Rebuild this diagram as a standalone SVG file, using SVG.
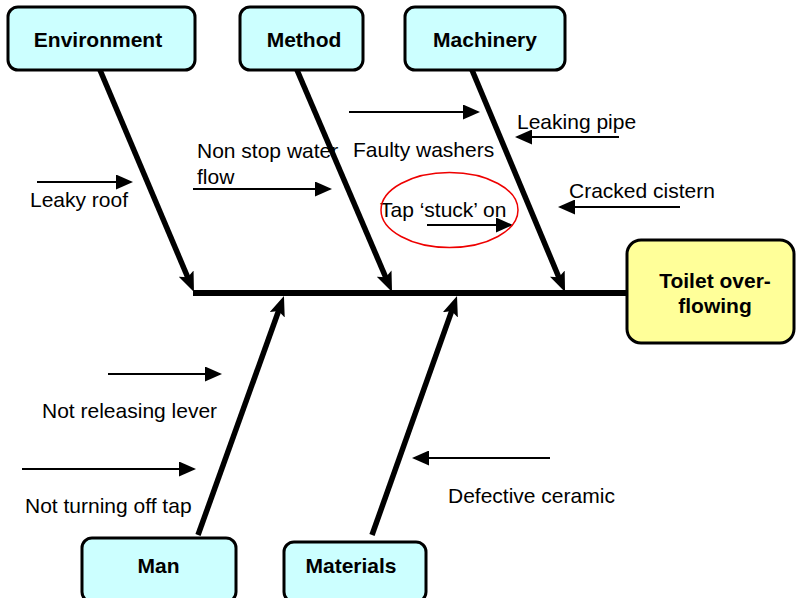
<svg xmlns="http://www.w3.org/2000/svg" width="796" height="598" viewBox="0 0 796 598">
<style>
.box{fill:#ccffff;stroke:#000;stroke-width:3}
.eff{fill:#ffff99;stroke:#000;stroke-width:3}
.lbl{font-family:"Liberation Sans",Arial,sans-serif;font-weight:bold;font-size:21px;fill:#000;text-anchor:middle}
.txt{font-family:"Liberation Sans",Arial,sans-serif;font-size:21px;fill:#000}
.bone{stroke:#000;stroke-width:5.5;fill:none;marker-end:url(#big)}
.small{stroke:#000;stroke-width:2;fill:none;marker-end:url(#sm)}
</style>
<defs>
<marker id="big" markerUnits="userSpaceOnUse" viewBox="0 0 20 16" markerWidth="20" markerHeight="16" refX="8" refY="8" orient="auto">
<path d="M0,0 L20,8 L0,16 L4,8 z" fill="#000"/>
</marker>
<marker id="sm" markerUnits="userSpaceOnUse" viewBox="0 0 17 15" markerWidth="17" markerHeight="15" refX="15" refY="7.5" orient="auto">
<path d="M0,0 L17,7.5 L0,15 z" fill="#000"/>
</marker>
</defs>
<g id="causes">
<text class="txt" x="30" y="207">Leaky roof</text>
<text class="txt" x="197" y="158">Non stop water</text>
<text class="txt" x="197" y="184">flow</text>
<text class="txt" x="353" y="157">Faulty washers</text>
<text class="txt" x="380" y="217">Tap ‘stuck’ on</text>
<text class="txt" x="517" y="129">Leaking pipe</text>
<text class="txt" x="569" y="198">Cracked cistern</text>
<text class="txt" x="42" y="418">Not releasing lever</text>
<text class="txt" x="25" y="513">Not turning off tap</text>
<text class="txt" x="448" y="503">Defective ceramic</text>
</g>
<g id="connectors">
<path d="M193,293 H627" stroke="#000" stroke-width="6" fill="none"/>
<path class="bone" d="M100,70 L189.3,281"/>
<path class="bone" d="M297,70 L387.3,281"/>
<path class="bone" d="M472,70 L560.4,281"/>
<path class="bone" d="M198,535 L279.9,307.3"/>
<path class="bone" d="M372,535 L453,307.3"/>
<path class="small" d="M37,182 H131"/>
<path class="small" d="M193,189 H330"/>
<path class="small" d="M349,112 H478"/>
<path class="small" d="M427,225 H511"/>
<path class="small" d="M619,137 H517"/>
<path class="small" d="M680,207 H560"/>
<path class="small" d="M108,374 H220"/>
<path class="small" d="M22,469 H194"/>
<path class="small" d="M550,458 H414"/>
<ellipse cx="449.5" cy="210" rx="68.5" ry="37.5" fill="none" stroke="#e00" stroke-width="1.5"/>
</g>
<g id="environment"><rect class="box" x="8" y="7" width="187" height="63" rx="10"/><text class="lbl" x="98" y="47">Environment</text></g>
<g id="method"><rect class="box" x="240" y="7" width="123" height="63" rx="10"/><text class="lbl" x="304" y="47">Method</text></g>
<g id="machinery"><rect class="box" x="405" y="7" width="160" height="63" rx="10"/><text class="lbl" x="485" y="47">Machinery</text></g>
<g id="toilet"><rect class="eff" x="627" y="240" width="167" height="103" rx="14"/><text class="lbl" x="715" y="288">Toilet over-</text><text class="lbl" x="715" y="313">flowing</text></g>
<g id="man"><rect class="box" x="82" y="538" width="154" height="64" rx="10"/><text class="lbl" x="158.5" y="573">Man</text></g>
<g id="materials"><rect class="box" x="284" y="542" width="142" height="60" rx="10"/><text class="lbl" x="351" y="573">Materials</text></g>
</svg>
